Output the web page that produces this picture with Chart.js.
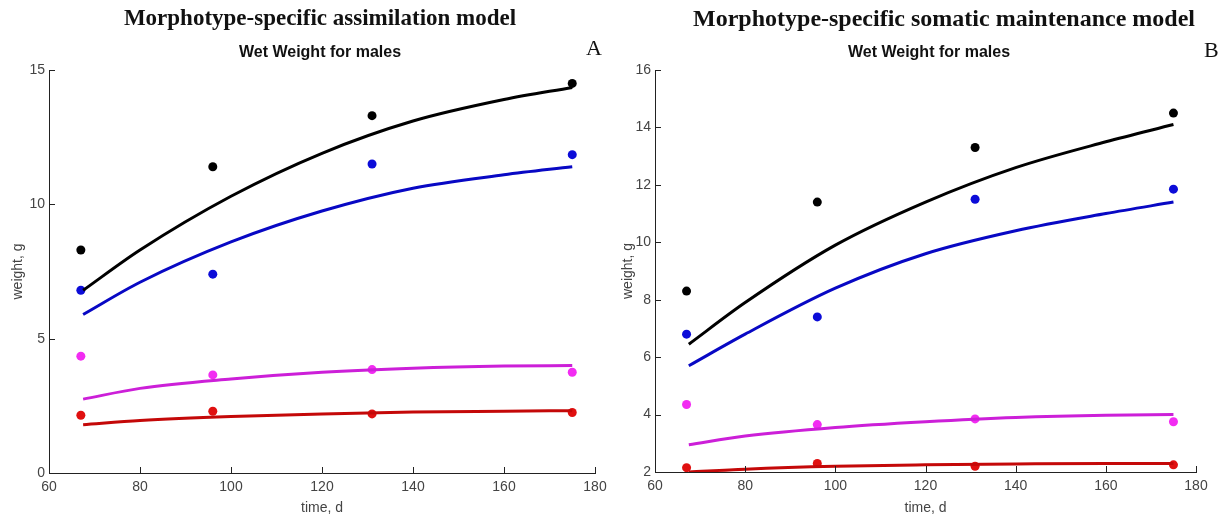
<!DOCTYPE html>
<html>
<head>
<meta charset="utf-8">
<script src="https://cdn.jsdelivr.net/npm/chart.js@4.4.1/dist/chart.umd.min.js"></script>
<style>
  html, body { margin: 0; padding: 0; background: #fff; }
  #wrap { position: relative; width: 1227px; height: 523px; overflow: hidden; }
  .panel { position: absolute; top: 0; height: 523px; }
  .title { position: absolute; font-family: "Liberation Serif", "Times New Roman", serif; font-weight: bold; font-size: 23px; line-height: 23px; color: #111; white-space: nowrap; transform: translateX(-50%); }
  .sub { position: absolute; font-family: "Liberation Sans", Arial, sans-serif; font-weight: bold; font-size: 16px; line-height: 16px; color: #111; white-space: nowrap; transform: translateX(-50%); }
  .tag { position: absolute; font-family: "Liberation Serif", "Times New Roman", serif; font-size: 22px; line-height: 22px; color: #111; }
</style>
</head>
<body>
<div id="wrap">
  <div class="panel" style="left:0;width:613px;"><canvas id="chartA" width="613" height="523"></canvas></div>
  <div class="panel" style="left:613px;width:614px;"><canvas id="chartB" width="614" height="523"></canvas></div>
  <div class="title" style="left:320px;top:6px;">Morphotype-specific assimilation model</div>
  <div class="sub" style="left:320px;top:44px;">Wet Weight for males</div>
  <div class="tag" style="left:586px;top:37px;">A</div>
  <div class="title" style="left:944px;top:6px;font-size:24px;line-height:24px;">Morphotype-specific somatic maintenance model</div>
  <div class="sub" style="left:929px;top:44px;">Wet Weight for males</div>
  <div class="tag" style="left:1204px;top:39px;">B</div>
</div>
<script>
// observation times (days) and times at which the fitted curves were read
const obsTimes = [67, 96, 131, 175];
const curveTimes = [67.5, 80, 100, 120, 140, 160, 175];

// observed wet weights (same data in both panels)
const blackObs = [8.3, 11.4, 13.3, 14.5];
const blueObs = [6.8, 7.4, 11.5, 11.85];
const magentaObs = [4.35, 3.65, 3.85, 3.75];
const redObs = [2.15, 2.3, 2.2, 2.25];

// panel A fitted curves (assimilation model)
const blackFitA = [6.8, 8.3, 10.3, 11.9, 13.1, 13.9, 14.35];
const blueFitA = [5.9, 7.1, 8.6, 9.75, 10.6, 11.1, 11.4];
const magentaFitA = [2.75, 3.15, 3.5, 3.75, 3.9, 3.98, 4.0];
const redFitA = [1.8, 1.95, 2.1, 2.2, 2.27, 2.3, 2.32];

// panel B fitted curves (somatic maintenance model)
const blackFitB = [6.45, 7.9, 9.9, 11.4, 12.6, 13.5, 14.1];
const blueFitB = [5.7, 6.8, 8.4, 9.6, 10.4, 11.0, 11.4];
const magentaFitB = [2.95, 3.25, 3.55, 3.75, 3.9, 3.98, 4.0];
const redFitB = [2.0, 2.1, 2.2, 2.25, 2.28, 2.3, 2.3];

// axis ticks
const xTicks = [60, 80, 100, 120, 140, 160, 180];
const yTicksA = [0, 5, 10, 15];
const yTicksB = [2, 4, 6, 8, 10, 12, 14, 16];

const lineColors = {
    black: '#000000',
    blue: '#0808c4',
    magenta: '#cc1fd8',
    red: '#c40808'
};
const dotColors = {
    black: '#000000',
    blue: '#0c0cd8',
    magenta: '#f22cf2',
    red: '#e01010'
};

function pairs(xs, ys) {
    return xs.map((x, i) => ({ x: x, y: ys[i] }));
}

function fitSet(ys, color) {
    return {
        data: pairs(curveTimes, ys),
        showLine: true,
        borderColor: color,
        borderWidth: 3,
        pointRadius: 0,
        cubicInterpolationMode: 'monotone',
        fill: false
    };
}

function obsSet(ys, color) {
    return {
        data: pairs(obsTimes, ys),
        showLine: false,
        pointRadius: 4.5,
        pointBackgroundColor: color,
        pointBorderColor: color,
        pointBorderWidth: 0
    };
}

// draw MATLAB style inward tick marks
const innerTicks = {
    id: 'innerTicks',
    afterDraw(chart) {
        const ctx = chart.ctx;
        const area = chart.chartArea;
        const xs = chart.scales.x;
        const ys = chart.scales.y;
        ctx.save();
        ctx.strokeStyle = '#222';
        ctx.lineWidth = 1;
        ctx.beginPath();
        xs.ticks.forEach(t => {
            const px = Math.round(xs.getPixelForValue(t.value)) + 0.5;
            ctx.moveTo(px, area.bottom);
            ctx.lineTo(px, area.bottom - 6);
        });
        ys.ticks.forEach(t => {
            const py = Math.round(ys.getPixelForValue(t.value)) + 0.5;
            ctx.moveTo(area.left, py);
            ctx.lineTo(area.left + 6, py);
        });
        ctx.stroke();
        ctx.restore();
    }
};

function makeChart(id, fits, yTicks, pad, yWidth, xHeight) {
    const ctx = document.getElementById(id).getContext('2d');
    const tickFont = { family: '"Liberation Sans", Arial, sans-serif', size: 14 };
    return new Chart(ctx, {
        type: 'scatter',
        data: {
            datasets: [
                fitSet(fits[0], lineColors.black),
                fitSet(fits[1], lineColors.blue),
                fitSet(fits[2], lineColors.magenta),
                fitSet(fits[3], lineColors.red),
                obsSet(blackObs, dotColors.black),
                obsSet(blueObs, dotColors.blue),
                obsSet(magentaObs, dotColors.magenta),
                obsSet(redObs, dotColors.red)
            ]
        },
        options: {
            responsive: false,
            animation: false,
            layout: { padding: pad },
            plugins: { legend: { display: false }, tooltip: { enabled: false } },
            scales: {
                x: {
                    type: 'linear',
                    min: xTicks[0],
                    max: xTicks[xTicks.length - 1],
                    afterBuildTicks: s => { s.ticks = xTicks.map(v => ({ value: v })); },
                    afterFit: s => { s.height = xHeight; },
                    grid: { drawOnChartArea: false, drawTicks: false },
                    border: { display: true, color: '#222', width: 1 },
                    ticks: { font: tickFont, color: '#444', padding: 6, maxRotation: 0 },
                    title: { display: true, text: 'time, d', font: tickFont, color: '#444', padding: { top: 0, bottom: 6 } }
                },
                y: {
                    type: 'linear',
                    min: yTicks[0],
                    max: yTicks[yTicks.length - 1],
                    afterBuildTicks: s => { s.ticks = yTicks.map(v => ({ value: v })); },
                    afterFit: s => { s.width = yWidth; },
                    grid: { drawOnChartArea: false, drawTicks: false },
                    border: { display: true, color: '#222', width: 1 },
                    ticks: { font: tickFont, color: '#444', padding: 4 },
                    title: { display: true, text: 'weight, g', font: tickFont, color: '#444', padding: { top: 0, bottom: 0 } }
                }
            }
        },
        plugins: [innerTicks]
    });
}

makeChart('chartA', [blackFitA, blueFitA, magentaFitA, redFitA], yTicksA,
    { left: 10, top: 70, right: 18, bottom: 0 }, 39, 50);
makeChart('chartB', [blackFitB, blueFitB, magentaFitB, redFitB], yTicksB,
    { left: 7, top: 70, right: 31, bottom: 0 }, 35, 51);
</script>
</body>
</html>
